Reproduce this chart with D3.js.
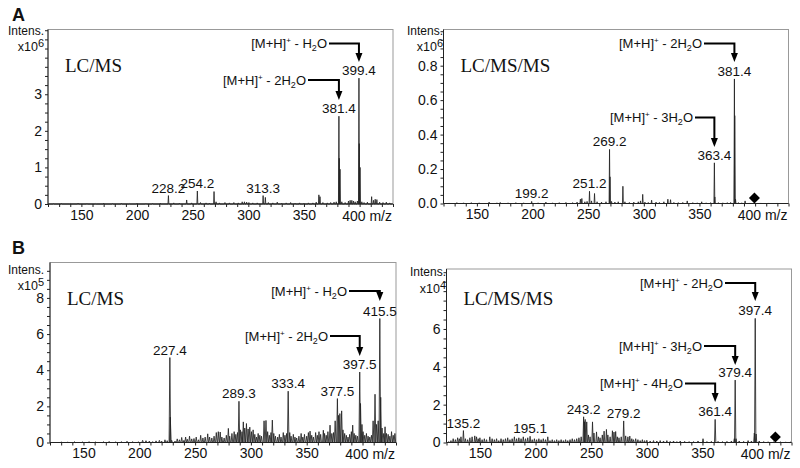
<!DOCTYPE html>
<html>
<head>
<meta charset="utf-8">
<script src="https://cdn.jsdelivr.net/npm/d3@7"></script>
<style>
  body { margin: 0; background: #fff; }
  text { font-family: "Liberation Sans", Arial, sans-serif; fill: #111; }
  .serif { font-family: "Liberation Serif", "Times New Roman", serif; }
</style>
</head>
<body>
<svg id="chart" width="800" height="468"></svg>
<script>
// m/z range shared by all four spectra
const mzDomain = [120, 430];
const xTickLabels = [150, 200, 250, 300, 350, 400];

// A, LC/MS   (intensity x10^6)
const aLcmsPeaks = [
  [125, 0.01], [132, 0.015], [140, 0.01], [147, 0.02], [155, 0.012], [163, 0.01], [170, 0.02],
  [178, 0.012], [186, 0.015], [193, 0.01], [200, 0.02], [208, 0.012], [214, 0.015], [221, 0.02],
  [228.2, 0.23], [233, 0.03], [238, 0.02], [244.6, 0.11], [249, 0.03], [254.2, 0.355], [257, 0.04],
  [262, 0.03], [265, 0.02], [269.2, 0.34], [271, 0.06], [274, 0.03], [279, 0.04], [283, 0.03],
  [287, 0.04], [291, 0.03], [294.5, 0.06], [296.5, 0.06], [298.5, 0.05], [300.5, 0.04], [304, 0.03],
  [308, 0.03], [313.3, 0.23], [315.3, 0.18], [318, 0.04], [322, 0.03], [326, 0.05], [330, 0.02],
  [334, 0.03], [338, 0.04], [342, 0.02], [346, 0.03], [350, 0.02], [354, 0.03], [358, 0.03],
  [361, 0.05], [363.4, 0.25], [364.4, 0.2], [367, 0.04], [371, 0.03], [374, 0.04], [377, 0.05],
  [379, 0.06], [381.4, 2.4], [381.7, 1.25], [382.4, 0.95], [384, 0.06], [387, 0.04], [390, 0.08],
  [391.5, 0.1], [393, 0.1], [394.5, 0.08], [396, 0.06], [398, 0.08], [399.4, 3.44], [399.7, 1.65],
  [400.4, 1.0], [402, 0.06], [404, 0.04], [407, 0.05], [410.8, 0.2], [412.5, 0.1], [414, 0.13],
  [415.5, 0.12], [418, 0.05], [421, 0.04], [424, 0.05], [427, 0.03]
];
const aLcmsLabels = [228.2, 254.2, 313.3, 381.4, 399.4];

// A, LC/MS/MS   (intensity x10^6)
const aMsmsPeaks = [
  [125, 0.003], [132, 0.005], [138, 0.004], [145, 0.005], [152, 0.004], [161, 0.008], [168, 0.004],
  [171, 0.006], [178, 0.004], [185, 0.005], [192, 0.004], [199.2, 0.012], [205, 0.004], [212, 0.008],
  [218, 0.004], [224, 0.005], [230, 0.006], [236, 0.005], [240, 0.008], [243, 0.025], [244.3, 0.029],
  [247, 0.01], [249, 0.012], [251.2, 0.071], [253, 0.015], [255.7, 0.058], [258, 0.01], [262, 0.008],
  [266, 0.01], [269.2, 0.314], [269.6, 0.155], [271, 0.012], [274, 0.008], [277, 0.01], [281.2, 0.1],
  [283, 0.01], [287, 0.006], [291, 0.008], [295, 0.01], [297, 0.015], [299, 0.053], [301, 0.008],
  [304, 0.006], [307, 0.019], [311, 0.008], [314, 0.006], [318, 0.01], [321.6, 0.025], [324, 0.022],
  [327, 0.006], [331, 0.005], [335, 0.006], [339, 0.015], [344, 0.005], [348, 0.004], [352, 0.01],
  [356, 0.004], [360, 0.005], [363.4, 0.236], [363.8, 0.038], [367, 0.005], [371, 0.004], [375, 0.005],
  [378, 0.006], [381.4, 0.723], [381.7, 0.51], [382.4, 0.025], [385, 0.005], [388, 0.004], [391, 0.015],
  [395, 0.003], [405, 0.003], [412, 0.003], [420, 0.003]
];
const aMsmsLabels = [199.2, 251.2, 269.2, 363.4, 381.4];
const aMsmsPrecursor = 399.4;

// B, LC/MS   (intensity x10^5)
const bLcmsPeaks = [
  [130, 0.03], [136, 0.02], [142, 0.04], [149, 0.03], [155, 0.05], [161, 0.03], [168, 0.04], [173, 0.06],
  [179, 0.04], [184, 0.05], [189, 0.07], [194, 0.05], [199, 0.04], [203, 0.12], [206, 0.1], [209, 0.08],
  [212, 0.05], [215, 0.09], [218, 0.12], [220, 0.08], [223, 0.15], [225, 0.1], [227.4, 4.7], [227.8, 1.4],
  [229, 0.12], [232, 0.08], [234, 0.2], [236, 0.15], [238, 0.28], [240, 0.12], [241.5, 0.3], [243, 0.18],
  [245, 0.35], [247, 0.2], [249, 0.22], [251, 0.3], [253, 0.15], [255, 0.4], [257, 0.25], [259, 0.3],
  [261.3, 0.48], [263, 0.3], [265, 0.25], [267, 0.35], [269, 0.55], [270.8, 0.6], [272.5, 0.58], [274, 0.3],
  [276, 0.25], [278, 0.4], [279.8, 0.78], [281, 0.35], [283, 0.5], [285, 0.6], [286.5, 0.45], [288, 0.55],
  [289.3, 2.28], [290.5, 0.7], [292, 0.6], [293.2, 1.14], [294.5, 0.8], [296, 1.05], [297.5, 0.75], [299, 0.85],
  [300.5, 0.6], [302, 0.7], [303.5, 0.45], [305, 0.3], [306.5, 0.5], [308, 0.4], [309.5, 0.35], [311.8, 1.2],
  [313.5, 1.22], [315, 0.6], [316.5, 0.4], [318, 0.55], [319.2, 1.24], [320.5, 0.5], [322, 0.35], [324, 0.3],
  [325.5, 0.45], [327, 0.3], [329, 0.55], [330.5, 0.4], [332, 0.5], [333.4, 2.84], [334.8, 0.55], [336, 0.35],
  [338, 0.45], [339.5, 0.3], [341, 0.25], [343, 0.35], [345, 0.5], [346.5, 0.3], [348, 0.45], [350, 0.35],
  [351.5, 0.55], [353, 0.63], [354.5, 0.4], [356, 0.3], [358, 0.55], [359.5, 0.4], [361, 0.6], [362.5, 0.45],
  [364.9, 0.68], [366, 0.5], [367.5, 0.4], [369, 0.6], [370.9, 0.96], [372.5, 0.5], [374, 0.55], [375.5, 1.2],
  [377.5, 2.43], [378.5, 1.5], [379.7, 1.6], [381.3, 1.75], [382.5, 0.7], [384, 0.5], [385.5, 0.4], [387, 0.3],
  [388.5, 0.45], [390, 0.6], [391.2, 0.96], [392.5, 0.5], [394, 0.4], [395.5, 0.35], [397.5, 3.9], [398.2, 2.16],
  [399.5, 1.0], [400.5, 0.6], [402, 0.4], [403.5, 0.5], [405, 0.35], [406.5, 0.3], [408, 0.4], [409.5, 1.2],
  [411.2, 2.67], [412.5, 1.0], [414, 1.2], [415.5, 6.86], [416.3, 2.5], [417.5, 0.8], [419, 0.5], [420.2, 0.87],
  [421.5, 0.5], [423, 0.45], [424.5, 0.35], [426, 0.6], [427.5, 0.4], [429, 0.5]
];
const bLcmsLabels = [227.4, 289.3, 333.4, 377.5, 397.5, 415.5];

// B, LC/MS/MS   (intensity x10^4)
const bMsmsPeaks = [
  [122, 0.05], [124, 0.1], [126, 0.2], [128, 0.15], [130, 0.25], [131.5, 0.2], [133, 0.3], [135.2, 0.63],
  [137, 0.2], [139, 0.15], [141, 0.25], [143, 0.3], [145.4, 0.35], [147, 0.3], [148.5, 0.2], [150, 0.25],
  [152, 0.15], [154, 0.2], [156, 0.15], [158.9, 0.3], [161, 0.2], [163, 0.15], [165, 0.2], [167, 0.1],
  [169, 0.2], [171, 0.15], [173, 0.2], [175, 0.25], [177, 0.15], [179, 0.2], [181, 0.3], [183, 0.2],
  [185, 0.25], [187, 0.2], [189, 0.3], [191, 0.2], [193, 0.25], [195.1, 0.33], [197, 0.15], [199, 0.2],
  [201, 0.15], [203, 0.2], [205, 0.15], [207, 0.2], [209, 0.15], [211, 0.3], [213, 0.1], [215, 0.15],
  [217, 0.1], [219, 0.15], [221, 0.1], [223, 0.15], [225, 0.1], [227, 0.15], [229, 0.1], [231, 0.15],
  [233, 0.2], [235, 0.15], [237, 0.2], [239, 0.25], [241, 0.3], [243.2, 1.36], [243.9, 1.1], [244.6, 1.22],
  [246, 1.09], [247.5, 0.4], [249, 0.3], [251.2, 1.09], [252.5, 0.5], [254.8, 0.56], [256.5, 0.3], [258, 0.25],
  [260, 0.4], [261.6, 0.6], [263.7, 0.69], [265, 0.4], [267, 0.3], [269.1, 0.62], [270.5, 0.55], [272, 0.58],
  [273.5, 0.3], [275, 0.25], [277, 0.3], [279.2, 1.14], [281, 0.35], [283, 0.3], [284.7, 0.34], [286.5, 0.2],
  [288, 0.15], [290, 0.2], [292, 0.15], [294, 0.1], [296, 0.15], [298, 0.1], [300, 0.12], [303, 0.08],
  [306, 0.1], [309, 0.08], [312, 0.1], [315, 0.08], [318, 0.1], [321, 0.06], [324, 0.08], [327, 0.05],
  [330, 0.08], [334, 0.06], [338, 0.05], [342, 0.05], [346, 0.08], [350.5, 0.2], [354, 0.05], [358, 0.06],
  [361.4, 1.22], [364, 0.06], [368, 0.05], [372, 0.06], [376, 0.08], [378.6, 0.2], [379.4, 3.3], [380.2, 0.2],
  [383, 0.08], [387, 0.06], [391, 0.1], [394, 0.08], [396.6, 0.5], [397.4, 6.56], [398.2, 0.45], [401, 0.08],
  [405, 0.05], [409, 0.04], [414, 0.03], [420, 0.03], [425, 0.03], [429, 0.02]
];
const bMsmsLabels = [135.2, 195.1, 243.2, 279.2, 361.4, 379.4, 397.4];
const bMsmsPrecursor = 415.5;

// panel layout (pixel positions of each plot frame and its annotations)
const panels = [
  {
    letter: "A", letterY: 21, title: "LC/MS", titleY: 72, exp: "6", peaks: aLcmsPeaks, labels: aLcmsLabels,
    left: 48, right: 393, top: 29.5, base: 204, yMax: 4.77, yMajor: [0, 1, 2, 3], yStep: 0.25,
    fmt: d3.format("d"), unitX: 44, intensY: 35, expY: 51, halfWidth: 0.4,
    annots: [
      { n: "", mz: 399.4, textEnd: 327, lineY: 43.5, tipY: 62 },
      { n: "2", mz: 381.4, textEnd: 306, lineY: 80, tipY: 100 }
    ]
  },
  {
    title: "LC/MS/MS", titleY: 72, exp: "6", peaks: aMsmsPeaks, labels: aMsmsLabels, precursor: aMsmsPrecursor,
    left: 443.5, right: 788.5, top: 29.5, base: 203.5, yMax: 1.01, yMajor: [0, 0.2, 0.4, 0.6, 0.8], yStep: 0.05,
    fmt: d3.format(".1f"), unitX: 443, intensY: 35, expY: 51, halfWidth: 0.4,
    annots: [
      { n: "2", mz: 381.4, textEnd: 702, lineY: 43.5, tipY: 62 },
      { n: "3", mz: 363.4, textEnd: 693, lineY: 117.5, tipY: 147 }
    ]
  },
  {
    letter: "B", letterY: 254, title: "LC/MS", titleY: 305, exp: "5", peaks: bLcmsPeaks, labels: bLcmsLabels,
    left: 50, right: 396, top: 262.5, base: 442.5, yMax: 9.96, yMajor: [0, 2, 4, 6, 8], yStep: 0.5,
    fmt: d3.format("d"), unitX: 44, intensY: 274, expY: 290, halfWidth: 0.7,
    annots: [
      { n: "", mz: 415.5, textEnd: 347, lineY: 291, tipY: 301 },
      { n: "2", mz: 397.5, textEnd: 328, lineY: 336, tipY: 356 }
    ]
  },
  {
    title: "LC/MS/MS", titleY: 305, exp: "4", peaks: bMsmsPeaks, labels: bMsmsLabels, precursor: bMsmsPrecursor,
    left: 446.5, right: 791.5, top: 269, base: 442.5, yMax: 9.17, yMajor: [0, 2, 4, 6], yStep: 0.5,
    fmt: d3.format("d"), unitX: 446, intensY: 276, expY: 293, halfWidth: 0.6,
    annots: [
      { n: "2", mz: 397.4, textEnd: 723, lineY: 283, tipY: 301 },
      { n: "3", mz: 379.4, textEnd: 702, lineY: 346, tipY: 365 },
      { n: "4", mz: 361.4, textEnd: 683, lineY: 383.5, tipY: 402 }
    ]
  }
];

const svg = d3.select("#chart");

panels.forEach((p) => {
  const x = d3.scaleLinear().domain(mzDomain).range([p.left, p.right]);
  const y = d3.scaleLinear().domain([0, p.yMax]).range([p.base, p.top]);
  const g = svg.append("g");

  // frame
  g.append("rect")
    .attr("x", p.left).attr("y", p.top)
    .attr("width", p.right - p.left).attr("height", p.base - p.top)
    .attr("fill", "none").attr("stroke", "#999").attr("stroke-width", 1);

  // x axis: tick every 10, labels every 50, the last one carries the unit
  const xAxis = d3.axisBottom(x)
    .tickValues(d3.range(120, 431, 10))
    .tickSize(3)
    .tickPadding(3)
    .tickFormat((d) => (xTickLabels.includes(d) && d !== 400 ? d : ""));
  const gx = g.append("g").attr("transform", `translate(0,${p.base})`).call(xAxis);
  gx.select(".domain").remove();
  gx.selectAll("line").attr("stroke", "#222");
  gx.selectAll("text").style("font-size", "14px").attr("fill", "#111");

  g.append("text")
    .attr("x", p.right - 1).attr("y", p.base + 16.5)
    .attr("text-anchor", "end").style("font-size", "14px")
    .text("400 m/z");

  // y axis
  const yMinor = d3.range(0, p.yMax, p.yStep);
  const yAxis = d3.axisLeft(y)
    .tickValues(yMinor)
    .tickSize(3)
    .tickPadding(3)
    .tickFormat((d) => (p.yMajor.some((m) => Math.abs(m - d) < 1e-6) ? p.fmt(d) : ""));
  const gy = g.append("g").attr("transform", `translate(${p.left},0)`).call(yAxis);
  gy.select(".domain").remove();
  gy.selectAll("line").attr("stroke", "#222");
  gy.selectAll("text").style("font-size", "14px").attr("fill", "#111");

  // axis lines
  g.append("line").attr("x1", p.left).attr("x2", p.right).attr("y1", p.base).attr("y2", p.base)
    .attr("stroke", "#222");
  g.append("line").attr("x1", p.left).attr("x2", p.left).attr("y1", p.top).attr("y2", p.base)
    .attr("stroke", "#222");

  // intensity unit
  g.append("text").attr("x", p.unitX).attr("y", p.intensY)
    .attr("text-anchor", "end").style("font-size", "12px").text("Intens.");
  const u = g.append("text").attr("x", p.unitX).attr("y", p.expY)
    .attr("text-anchor", "end").style("font-size", "12.5px");
  u.append("tspan").text("x10");
  u.append("tspan").attr("dy", -4).style("font-size", "11px").text(p.exp);

  // spectrum trace
  const pts = [[mzDomain[0] + 0.5, 0]];
  p.peaks.forEach(([mz, h]) => {
    pts.push([mz - p.halfWidth, 0], [mz, h], [mz + p.halfWidth, 0]);
  });
  pts.push([mzDomain[1] - 0.5, 0]);
  const line = d3.line().x((d) => x(d[0])).y((d) => y(d[1]));
  g.append("path").attr("d", line(pts))
    .attr("fill", "none").attr("stroke", "#222").attr("stroke-width", 0.85);

  // peak labels
  p.labels.forEach((mz) => {
    const h = d3.max(p.peaks.filter((d) => d[0] === mz), (d) => d[1]);
    g.append("text")
      .attr("x", x(mz)).attr("y", y(h) - 3)
      .attr("text-anchor", "middle").style("font-size", "13.5px")
      .text(mz.toFixed(1));
  });

  // precursor marker
  if (p.precursor) {
    const cx = x(p.precursor), cy = p.base - 5.5, r = 5.5;
    g.append("path")
      .attr("d", `M${cx},${cy - r}L${cx + r},${cy}L${cx},${cy + r}L${cx - r},${cy}Z`)
      .attr("fill", "#000");
  }

  // annotations
  p.annots.forEach((a) => {
    const t = g.append("text")
      .attr("x", a.textEnd).attr("y", a.lineY + 4.5)
      .attr("text-anchor", "end").style("font-size", "13px");
    t.append("tspan").text("[M+H]");
    t.append("tspan").attr("dy", -5).style("font-size", "8px").text("+");
    t.append("tspan").attr("dy", 5).text(` - ${a.n}H`);
    t.append("tspan").attr("dy", 3).style("font-size", "9px").text("2");
    t.append("tspan").attr("dy", -3).text("O");

    const px = x(a.mz);
    g.append("path")
      .attr("d", `M${a.textEnd + 2},${a.lineY}H${px}V${a.tipY - 8}`)
      .attr("fill", "none").attr("stroke", "#000").attr("stroke-width", 2);
    g.append("path")
      .attr("d", `M${px - 3.5},${a.tipY - 9}L${px + 3.5},${a.tipY - 9}L${px},${a.tipY}Z`)
      .attr("fill", "#000");
  });

  // method title
  g.append("text").attr("class", "serif")
    .attr("x", p.left + 17).attr("y", p.titleY)
    .style("font-size", "19px")
    .text(p.title);

  if (p.letter) {
    g.append("text")
      .attr("x", 12).attr("y", p.letterY)
      .style("font-size", "18px").style("font-weight", "bold")
      .text(p.letter);
  }
});
</script>
</body>
</html>
